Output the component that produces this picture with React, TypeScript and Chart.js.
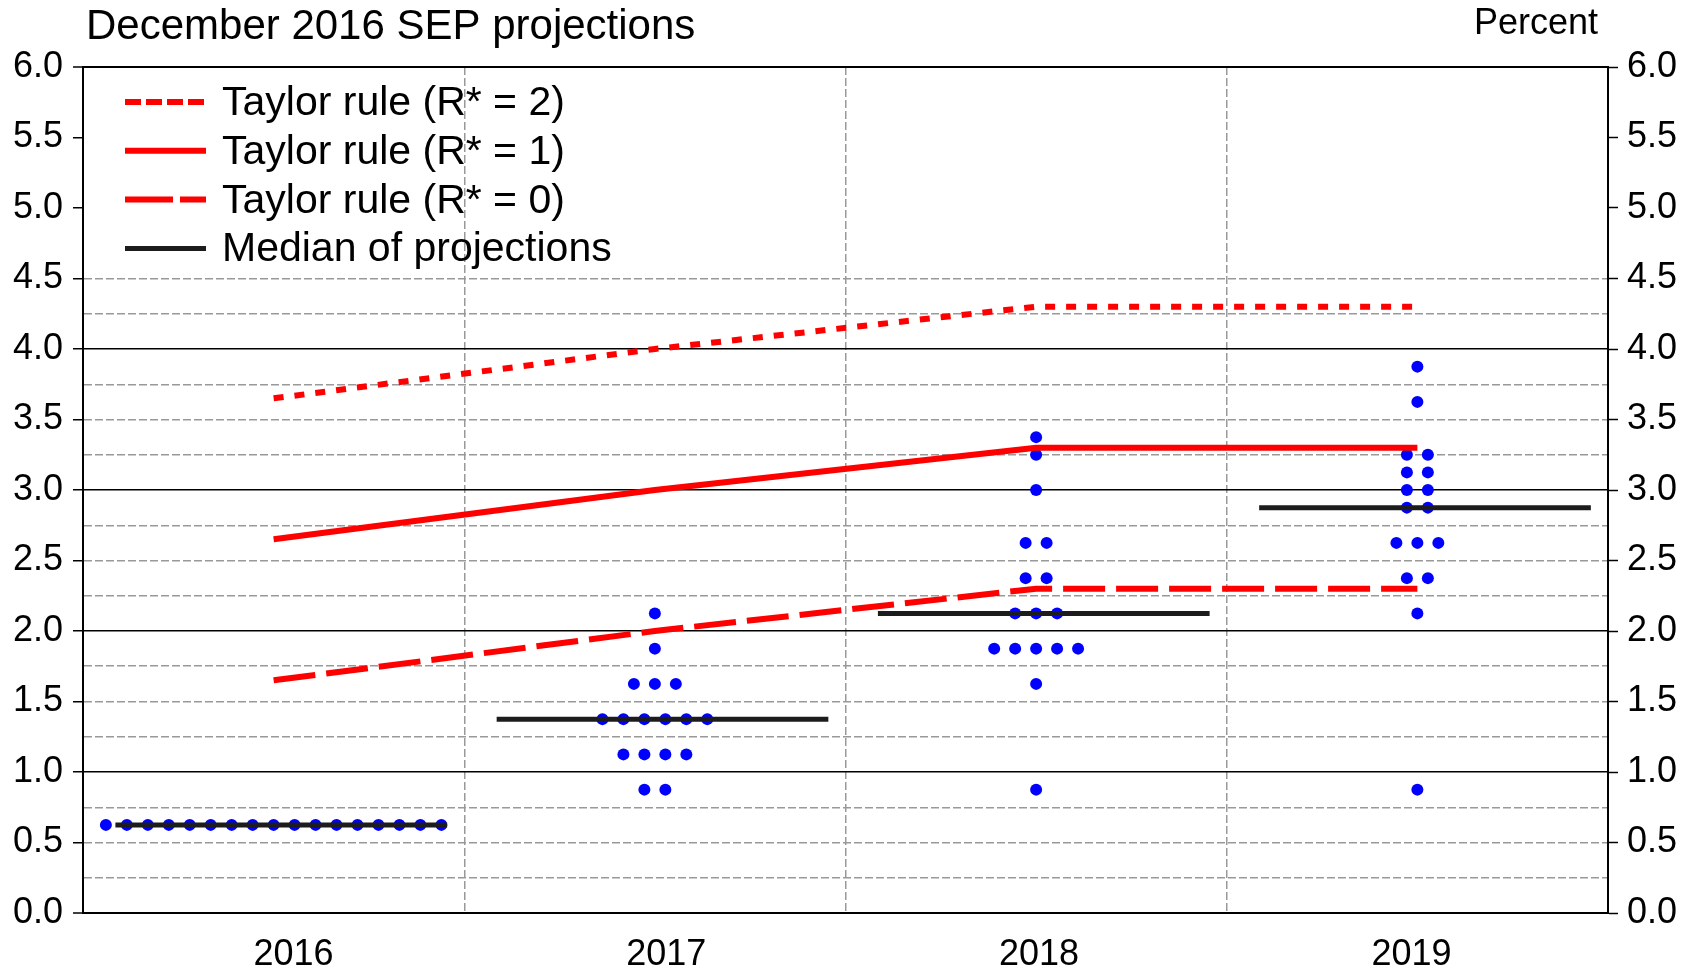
import React, { useEffect, useRef } from 'react';
import { Chart, registerables } from 'chart.js';

Chart.register(...registerables);

// ---------- Data ----------
const YEARS = [2016, 2017, 2018, 2019];

const DOTS_2016 = [0.625, 0.625, 0.625, 0.625, 0.625, 0.625, 0.625, 0.625, 0.625, 0.625, 0.625, 0.625, 0.625, 0.625, 0.625, 0.625, 0.625];
const DOTS_2017 = [0.875, 0.875, 1.125, 1.125, 1.125, 1.125, 1.375, 1.375, 1.375, 1.375, 1.375, 1.375, 1.625, 1.625, 1.625, 1.875, 2.125];
const DOTS_2018 = [0.875, 1.625, 1.875, 1.875, 1.875, 1.875, 1.875, 2.125, 2.125, 2.125, 2.375, 2.375, 2.625, 2.625, 3.0, 3.25, 3.375];
const DOTS_2019 = [0.875, 2.125, 2.375, 2.375, 2.625, 2.625, 2.625, 2.875, 2.875, 3.0, 3.0, 3.125, 3.125, 3.25, 3.25, 3.625, 3.875];

const MEDIANS = [0.625, 1.375, 2.125, 2.875];
const TAYLOR_R2 = [3.65, 4.0, 4.3, 4.3];
const TAYLOR_R1 = [2.65, 3.0, 3.3, 3.3];
const TAYLOR_R0 = [1.65, 2.0, 2.3, 2.3];

const TITLE = 'December 2016 SEP projections';
const UNITS = 'Percent';
const LABEL_R2 = 'Taylor rule (R* = 2)';
const LABEL_R1 = 'Taylor rule (R* = 1)';
const LABEL_R0 = 'Taylor rule (R* = 0)';
const LABEL_MEDIAN = 'Median of projections';

// ---------- Helpers ----------
const FONT = '"Liberation Sans", Arial, Helvetica, sans-serif';
const DOT_STEP = 0.055;
const TRANSPARENT = 'rgba(0,0,0,0)';

function dotPoints(year: number, values: number[]) {
  const counts = new Map<number, number>();
  values.forEach((v) => counts.set(v, (counts.get(v) || 0) + 1));
  const pts: { x: number; y: number }[] = [];
  counts.forEach((n, v) => {
    for (let i = 0; i < n; i++) pts.push({ x: year + (i - (n - 1) / 2) * DOT_STEP, y: v });
  });
  return pts;
}

const isHalf = (v: number) => Math.abs(v * 2 - Math.round(v * 2)) < 1e-9;
const isInt = (v: number) => Math.abs(v - Math.round(v)) < 1e-9;

function yGridColor(v: number | undefined) {
  if (v === undefined) return TRANSPARENT;
  if (Math.abs(v - 6) < 1e-9) return '#000';
  if (v > 4.5 + 1e-9) return TRANSPARENT;
  return isInt(v) ? '#000' : '#999999';
}

const titlePlugin = {
  id: 'titles',
  afterDraw(chart: any) {
    const c = chart.ctx;
    c.save();
    c.fillStyle = '#000';
    c.textBaseline = 'alphabetic';
    c.font = `42px ${FONT}`;
    c.textAlign = 'left';
    c.fillText(TITLE, 86, 39);
    c.font = `36px ${FONT}`;
    c.textAlign = 'right';
    c.fillText(UNITS, 1598, 34);
    c.restore();
  },
};

const legendPlugin = {
  id: 'innerLegend',
  afterDatasetsDraw(chart: any) {
    const c = chart.ctx;
    const area = chart.chartArea;
    const items = chart.data.datasets.filter((d: any) => d.legendRow !== undefined)
      .sort((a: any, b: any) => a.legendRow - b.legendRow);
    c.save();
    items.forEach((ds: any, i: number) => {
      const base = area.top + 48 + i * 48.8;
      const ly = base - 13;
      c.beginPath();
      c.strokeStyle = ds.borderColor;
      c.lineWidth = ds.borderWidth;
      c.setLineDash(ds.legendDash || ds.borderDash || []);
      c.lineCap = 'butt';
      c.moveTo(area.left + 42, ly);
      c.lineTo(area.left + 123, ly);
      c.stroke();
      c.setLineDash([]);
      c.fillStyle = '#000';
      c.font = `41px ${FONT}`;
      c.textAlign = 'left';
      c.textBaseline = 'alphabetic';
      c.fillText(ds.label, area.left + 139, base);
    });
    c.restore();
  },
};

export default function App() {
  const ref = useRef<HTMLCanvasElement | null>(null);

  useEffect(() => {
    if (!ref.current) return;
    Chart.defaults.font.family = FONT;
    Chart.defaults.color = '#000';

    const dots = [
      ...dotPoints(YEARS[0], DOTS_2016),
      ...dotPoints(YEARS[1], DOTS_2017),
      ...dotPoints(YEARS[2], DOTS_2018),
      ...dotPoints(YEARS[3], DOTS_2019),
    ];
    const medianPts: { x: number; y: number | null }[] = [];
    YEARS.forEach((yr, i) => {
      medianPts.push({ x: yr - 0.415, y: MEDIANS[i] });
      medianPts.push({ x: yr + 0.455, y: MEDIANS[i] });
      medianPts.push({ x: yr + 0.46, y: null });
    });
    const line = (vals: number[]) => YEARS.map((yr, i) => ({ x: yr, y: vals[i] }));

    const yTicks = (padding: number) => ({
      stepSize: 0.25,
      autoSkip: false,
      padding,
      font: { size: 36 },
      color: '#000',
      callback: (v: any) => (isHalf(Number(v)) ? Number(v).toFixed(1) : ''),
    });

    const chart = new Chart(ref.current, {
      type: 'line',
      data: {
        datasets: [
          {
            type: 'line',
            label: LABEL_R2,
            legendRow: 0,
            data: line(TAYLOR_R2),
            borderColor: '#ff0000',
            borderWidth: 6,
            borderDash: [10, 11],
            legendDash: [16, 5],
            pointRadius: 0,
            fill: false,
            tension: 0,
            order: 1,
            xAxisID: 'x',
            yAxisID: 'y',
          } as any,
          {
            type: 'line',
            label: LABEL_R1,
            legendRow: 1,
            data: line(TAYLOR_R1),
            borderColor: '#ff0000',
            borderWidth: 6,
            pointRadius: 0,
            fill: false,
            tension: 0,
            order: 1,
            xAxisID: 'x',
            yAxisID: 'y',
          } as any,
          {
            type: 'line',
            label: LABEL_R0,
            legendRow: 2,
            data: line(TAYLOR_R0),
            borderColor: '#ff0000',
            borderWidth: 6,
            borderDash: [42, 11],
            legendDash: [48, 7],
            pointRadius: 0,
            fill: false,
            tension: 0,
            order: 1,
            xAxisID: 'x',
            yAxisID: 'y',
          } as any,
          {
            type: 'line',
            label: LABEL_MEDIAN,
            legendRow: 3,
            data: medianPts,
            borderColor: '#1c1c1c',
            borderWidth: 5,
            pointRadius: 0,
            fill: false,
            spanGaps: false,
            order: 2,
            xAxisID: 'x',
            yAxisID: 'y',
          } as any,
          {
            type: 'scatter',
            label: 'Participants',
            data: dots,
            backgroundColor: '#0000ff',
            borderWidth: 0,
            pointRadius: 6,
            showLine: false,
            order: 3,
            xAxisID: 'x',
            yAxisID: 'y',
          } as any,
        ],
      },
      options: {
        animation: false,
        responsive: false,
        maintainAspectRatio: false,
        devicePixelRatio: 1,
        layout: { padding: { top: 67, left: 0, right: 0, bottom: 0 } },
        plugins: {
          legend: { display: false },
          tooltip: { enabled: false },
          title: { display: false },
        },
        scales: {
          x: {
            type: 'linear',
            position: 'bottom',
            weight: 0,
            min: 2015.5,
            max: 2019.5,
            ticks: { display: false, stepSize: 0.5, autoSkip: false },
            grid: {
              drawTicks: false,
              lineWidth: 1.5,
              color: (ctx: any) => {
                const v = ctx.tick ? ctx.tick.value : undefined;
                if (v === undefined) return TRANSPARENT;
                return !isInt(v) && v > 2015.6 && v < 2019.4 ? '#999999' : TRANSPARENT;
              },
            },
            border: { display: true, color: '#000', width: 2, dash: [8, 3] },
            afterFit: (s: any) => {
              s.height = 0;
            },
          },
          xLabels: {
            type: 'linear',
            position: 'bottom',
            weight: 1,
            min: 2015.435,
            max: 2019.527,
            afterBuildTicks: (s: any) => {
              s.ticks = YEARS.map((v) => ({ value: v }));
            },
            ticks: {
              autoSkip: false,
              maxRotation: 0,
              padding: 20,
              font: { size: 36 },
              color: '#000',
              callback: (v: any) => String(v),
            },
            grid: { display: false, drawTicks: false },
            border: { display: false },
            afterFit: (s: any) => {
              s.height = 57;
            },
          },
          y: {
            type: 'linear',
            position: 'left',
            min: 0,
            max: 6,
            ticks: yTicks(10),
            grid: {
              drawTicks: true,
              tickLength: 10,
              tickWidth: 1.5,
              tickBorderDash: [],
              tickColor: (ctx: any) => (ctx.tick && isHalf(ctx.tick.value) ? '#000' : TRANSPARENT),
              color: (ctx: any) => yGridColor(ctx.tick ? ctx.tick.value : undefined),
              lineWidth: (ctx: any) => {
                const v = ctx.tick ? ctx.tick.value : 0;
                if (Math.abs(v - 6) < 1e-9 || Math.abs(v) < 1e-9) return 2;
                return 1.5;
              },
            },
            border: {
              display: true,
              color: '#000',
              width: 2,
              dash: (ctx: any) => (ctx.tick && !isInt(ctx.tick.value) ? [8, 3] : []),
            },
            afterFit: (s: any) => {
              s.width = 83;
            },
          },
          y2: {
            type: 'linear',
            position: 'right',
            min: 0,
            max: 6,
            ticks: yTicks(9),
            grid: {
              drawOnChartArea: false,
              drawTicks: true,
              tickLength: 10,
              tickWidth: 1.5,
              tickBorderDash: [],
              tickColor: (ctx: any) => (ctx.tick && isHalf(ctx.tick.value) ? '#000' : TRANSPARENT),
            },
            border: { display: true, color: '#000', width: 2 },
            afterFit: (s: any) => {
              s.width = 88;
            },
          },
        },
      } as any,
      plugins: [titlePlugin, legendPlugin],
    });

    return () => {
      chart.destroy();
    };
  }, []);

  return (
    <div style={{ position: 'absolute', left: 0, top: 0, width: 1696, height: 970, background: '#fff' }}>
      <canvas ref={ref} width={1696} height={970} style={{ display: 'block' }} />
    </div>
  );
}
